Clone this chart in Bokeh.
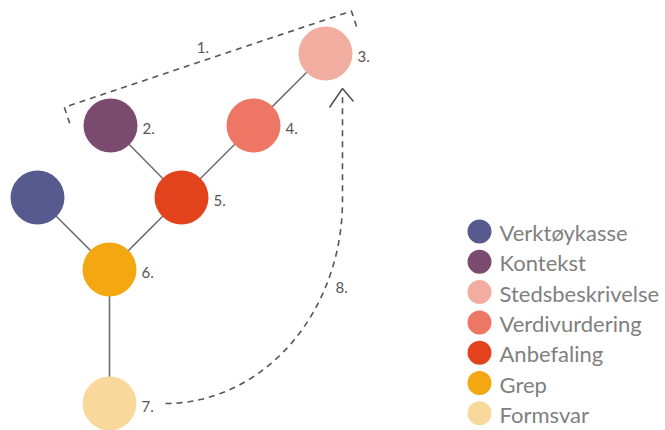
import numpy as np
from bokeh.plotting import figure
from bokeh.models import Range1d
from bokeh.core.properties import value
from bokeh.embed import file_html
from bokeh.resources import INLINE

# ---- data ----
names = ["Verktøykasse", "Kontekst", "Stedsbeskrivelse", "Verdivurdering",
         "Anbefaling", "Grep", "Formsvar"]
colors = ["#565a8e", "#7a4b6f", "#f2ada1", "#ee7664", "#e2431c", "#f3a711", "#f8d99b"]
node_x = [37, 110, 325, 253, 181, 109, 109]
node_y = [197, 125, 53, 125, 197, 269, 403]
node_num = ["", "2.", "3.", "4.", "5.", "6.", "7."]
edges = [("Verktøykasse", "Grep"), ("Kontekst", "Anbefaling"), ("Anbefaling", "Verdivurdering"),
         ("Verdivurdering", "Stedsbeskrivelse"), ("Anbefaling", "Grep"), ("Grep", "Formsvar")]
step_labels = ["1.", "8."]

W, H = 665, 430
p = figure(width=W, height=H, x_range=Range1d(0, W), y_range=Range1d(H, 0),
           output_backend="svg", toolbar_location=None, min_border=0)
p.axis.visible = False
p.grid.visible = False
p.outline_line_color = None
p.background_fill_color = "white"
p.border_fill_color = "white"

idx = {n: i for i, n in enumerate(names)}

# edges
xs = [[node_x[idx[a]], node_x[idx[b]]] for a, b in edges]
ys = [[node_y[idx[a]], node_y[idx[b]]] for a, b in edges]
p.multi_line(xs, ys, line_color="#707070", line_width=1.6)

# bracket "1." around nodes 2 and 3
a = np.array([node_x[1], node_y[1]], float)
b = np.array([node_x[2], node_y[2]], float)
d = (b - a) / np.linalg.norm(b - a)
n = np.array([d[1], -d[0]])  # pointing up-left
off, ext, tick = 32, 38, 17
c1 = a + off * n - ext * d
c2 = b + off * n + ext * d
t1 = c1 - tick * n
t2 = c2 - tick * n
p.line([t1[0], c1[0], c2[0], t2[0]], [t1[1], c1[1], c2[1], t2[1]],
       line_color="#555555", line_width=1.6, line_dash="6 5")
mid = (c1 + c2) / 2
p.text([mid[0] - 5], [mid[1] - 12], text=[step_labels[0]], text_font=value("Lato"),
       text_font_size="15px", text_color="#555555", text_align="center", text_baseline="middle")

# arrow "8." from node 7 to node 3
sx, sy = node_x[6] + 56, node_y[6]
ex, ey = node_x[2] + 17, node_y[2] + 40
cy = 200
th = np.linspace(np.pi / 2, 0, 60)
ax = sx + (ex - sx) * np.cos(th)
ay = cy + (sy - cy) * np.sin(th)
ax = np.concatenate([ax, [ex]])
ay = np.concatenate([ay, [ey]])
p.line(ax, ay, line_color="#555555", line_width=1.6, line_dash="6 5")
p.line([ex - 13, ex, ex + 11], [ey + 14, ey - 5, ey + 8], line_color="#555555", line_width=1.6)
p.text([ex - 7], [287], text=[step_labels[1]], text_font=value("Lato"),
       text_font_size="15px", text_color="#555555", text_align="left", text_baseline="middle")

# nodes
p.scatter(node_x, node_y, size=54, fill_color=colors, line_color=None)
p.text([x + 32 for x in node_x], [y + 3 for y in node_y], text=node_num,
       text_font=value("Lato"), text_font_size="15px", text_color="#555555",
       text_align="left", text_baseline="middle")

# legend
lx, ly0, lstep = 479, 231, 30.3
ly = [ly0 + i * lstep for i in range(len(names))]
p.scatter([lx] * len(names), ly, size=24, fill_color=colors, line_color=None)
p.text([lx + 20] * len(names), [y + 1 for y in ly], text=names, text_font=value("Lato"),
       text_font_size="22px", text_color="#808080", text_align="left", text_baseline="middle")

open("out.html", "w").write(file_html(p, INLINE))
